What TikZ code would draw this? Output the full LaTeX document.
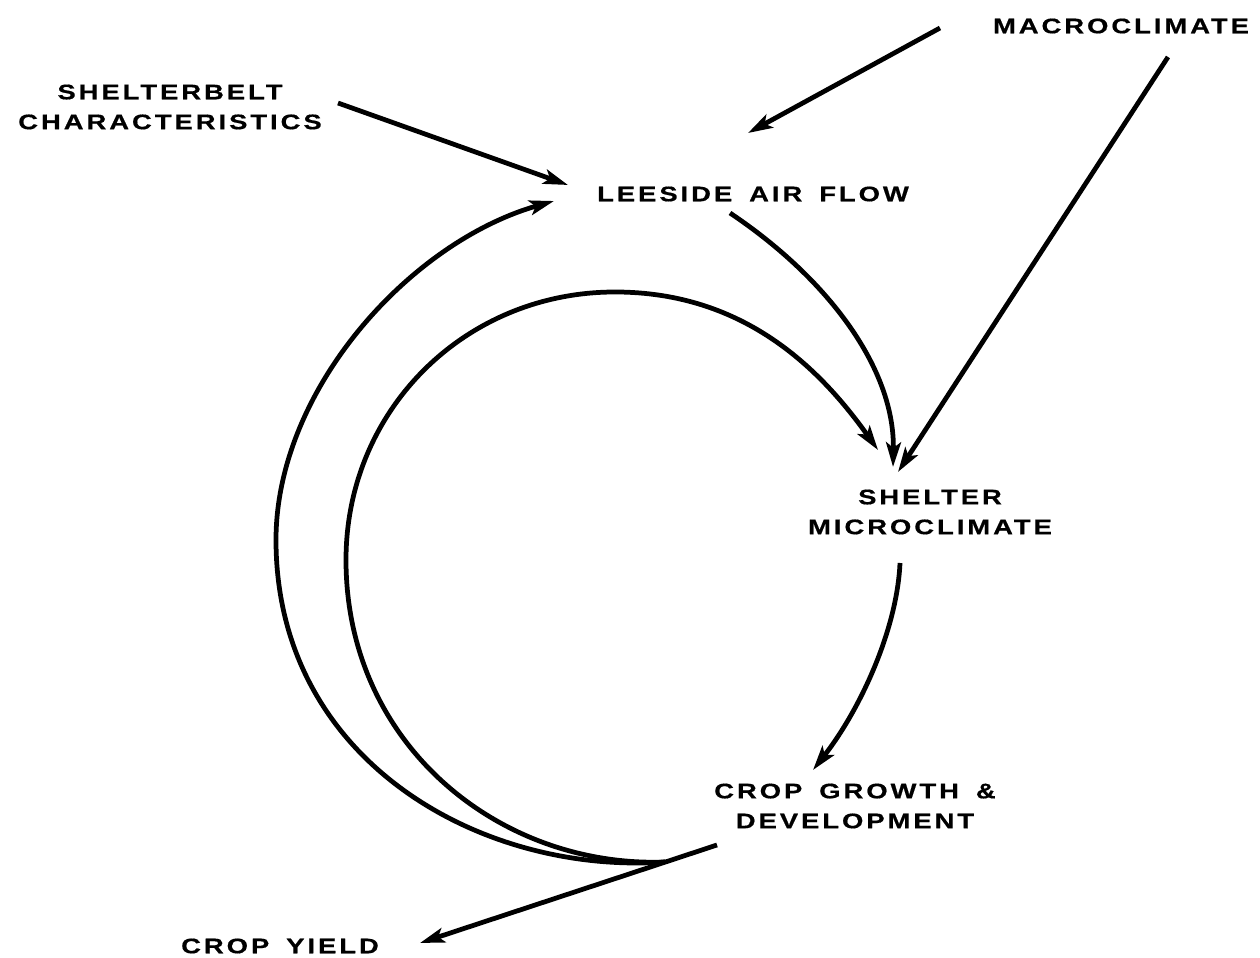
\documentclass[tikz,border=0pt]{standalone}
\usepackage{fontspec}
\usepackage{tikz}
\usetikzlibrary{arrows.meta}
\newfontfamily\lblfamily{Liberation Sans Bold}[FakeStretch=1.3,LetterSpace=14,WordSpace=1.6,FakeBold=0.6]

\begin{document}
\begin{tikzpicture}[x=0.01cm, y=-0.01cm,
    every node/.style={font=\lblfamily\fontsize{6}{8.5}\selectfont, align=center, inner sep=0pt},
    flow/.style={draw, line width=1.35pt, -{Stealth[length=7pt,width=4.2pt,inset=1.6pt]}},
    band/.style={draw, line width=1.35pt}]
        \useasboundingbox (0,0) rectangle (1260,958);

        \node (macro) at (1121,26) {MACROCLIMATE};
        \node (belt) at (170,107) {SHELTERBELT\\CHARACTERISTICS};
        \node (leeside) at (753,194) {LEESIDE AIR FLOW};
        \node (shelter) at (930,512) {SHELTER\\MICROCLIMATE};
        \node (growth) at (855,806) {CROP GROWTH \&\\DEVELOPMENT};
        \node (yield) at (280,946) {CROP YIELD};
        \coordinate (split) at (665,862);

        \draw [flow] ([shift={(-181,2)}]macro.center) -- ([shift={(-5,-61)}]leeside.center);
        \draw [flow] ([shift={(168,-4)}]belt.center) -- ([shift={(-185,-9)}]leeside.center);
        \draw [flow] ([shift={(-23,19)}]leeside.center) .. controls (830,280) and (895,370) .. ([shift={(-37,-45)}]shelter.center);
        \draw [flow] ([shift={(47,31)}]macro.center) -- ([shift={(-32,-40)}]shelter.center);
        \draw [flow] ([shift={(-30,51)}]shelter.center) .. controls (897,630) and (860,710) .. ([shift={(-42,-36)}]growth.center);
        \draw [flow] ([shift={(-138,39)}]growth.center) -- ([shift={(140,-3)}]yield.center);
        \draw [flow] (split) .. controls (480,875) and (276,760) .. (276,540)
            .. controls (276,390) and (410,242) .. ([shift={(-199,7)}]leeside.center);
        \draw [flow] (split) .. controls (500,868) and (346,745) .. (346,560)
            .. controls (346,410) and (465,292) .. (615,292)
            .. controls (745,292) and (821,370) .. ([shift={(-52,-62)}]shelter.center);
    \end{tikzpicture}
\end{document}
